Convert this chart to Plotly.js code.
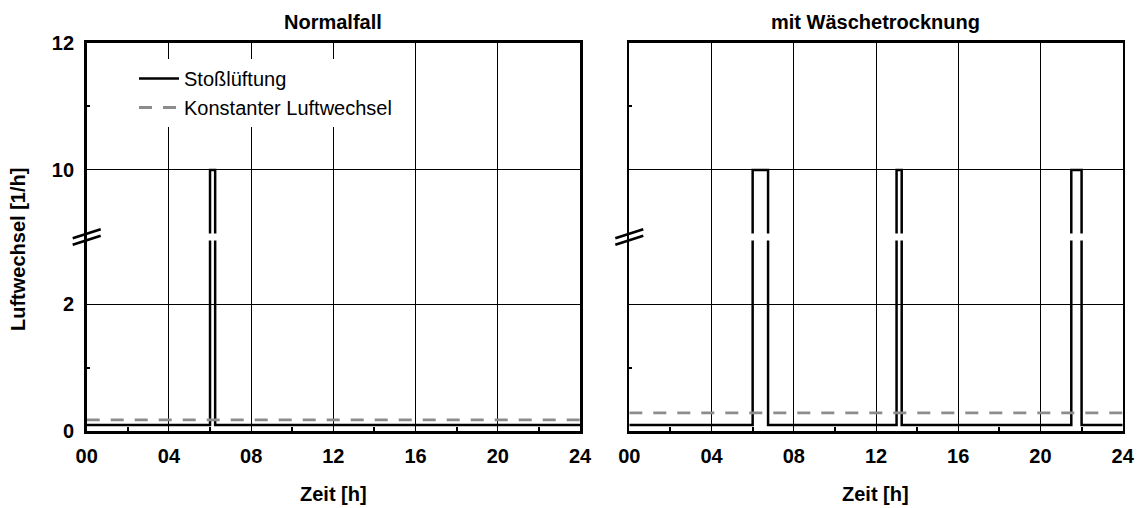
<!DOCTYPE html>
<html>
<head>
<meta charset="utf-8">
<script src="https://cdn.plot.ly/plotly-3.0.1.min.js"></script>
<style>
  html, body { margin: 0; padding: 0; background: #ffffff; }
  #chart { width: 1141px; height: 508px; }
</style>
</head>
<body>
<div id="chart"></div>
<script>
// ---------------- data ----------------
const panelTitles = ['Normalfall', 'mit Wäschetrocknung'];
const seriesNames = ['Stoßlüftung', 'Konstanter Luftwechsel'];
const xTickVals = [0, 4, 8, 12, 16, 20, 24];
const xTickText = ['00', '04', '08', '12', '16', '20', '24'];
const xMinorVals = [2, 6, 10, 14, 18, 22];
const yTickVals = [0, 2, 10, 12];
const yTickText = ['0', '2', '10', '12'];
const yMinorVals = [1, 11];
const xTitle = 'Zeit [h]';
const yTitle = 'Luftwechsel [1/h]';

// step series: value holds from times[i] to times[i+1]
const normalTimes = [0, 6.0, 6.25, 24];
const normalStoss = [0.1, 10, 0.1];
const dryTimes = [0, 6.0, 6.75, 13.0, 13.25, 21.5, 22.0, 24];
const dryStoss = [0.1, 10, 0.1, 10, 0.1, 10, 0.1];
const constHours = [0, 24];
const normalConst = [0.18, 0.18];
const dryConst = [0.29, 0.29];

// ---------------- broken y-axis scale ----------------
const BREAK_FROM = 2, BREAK_TO = 10, BREAK_SPAN = 2.11; // 2..10 drawn over 2.11 units
function tr(v) {
  if (v <= BREAK_FROM) return v;
  if (v >= BREAK_TO) return v - BREAK_TO + BREAK_FROM + BREAK_SPAN;
  return BREAK_FROM + (v - BREAK_FROM) / (BREAK_TO - BREAK_FROM) * BREAK_SPAN;
}
const BREAK_MID = BREAK_FROM + BREAK_SPAN / 2;
const GAP_LO = BREAK_MID - 0.055, GAP_HI = BREAK_MID + 0.055;
const Y_RANGE = [0, tr(12)];

function buildStep(times, vals) {
  const xs = [], ys = [];
  for (let i = 0; i < vals.length; i++) {
    const y = tr(vals[i]);
    if (i > 0) {
      const yp = tr(vals[i - 1]);
      if (Math.min(yp, y) < GAP_LO && Math.max(yp, y) > GAP_HI) {
        const a = yp < y ? GAP_LO : GAP_HI;
        const b = yp < y ? GAP_HI : GAP_LO;
        xs.push(times[i], null, times[i]);
        ys.push(a, null, b);
      }
    }
    xs.push(times[i], times[i + 1]);
    ys.push(y, y);
  }
  return {x: xs, y: ys};
}

// ---------------- layout geometry (px) ----------------
const W = 1141, H = 508;
const FONT = '"Liberation Sans", Arial, Helvetica, sans-serif';
const panels = [
  {x0: 86.7, x1: 580},
  {x0: 629.3, x1: 1122.7}
];
const yTopPx = 42.7, yBotPx = 431.3;
const px2x = p => p / W;
const px2y = p => 1 - p / H;
const yDomain = [px2y(yBotPx), px2y(yTopPx)];

const stossStyle = {color: '#000000', width: 2.5};
const constStyle = {color: '#8c8c8c', width: 2.8, dash: '13px,11px'};

const s1 = buildStep(normalTimes, normalStoss);
const s2 = buildStep(dryTimes, dryStoss);

const traces = [
  {x: s1.x, y: s1.y, xaxis: 'x', yaxis: 'y', mode: 'lines', name: seriesNames[0],
   line: stossStyle, connectgaps: false, hoverinfo: 'skip'},
  {x: constHours, y: normalConst.map(tr), xaxis: 'x', yaxis: 'y', mode: 'lines', name: seriesNames[1],
   line: constStyle, hoverinfo: 'skip'},
  {x: s2.x, y: s2.y, xaxis: 'x2', yaxis: 'y2', mode: 'lines', name: seriesNames[0],
   line: stossStyle, connectgaps: false, showlegend: false, hoverinfo: 'skip'},
  {x: constHours, y: dryConst.map(tr), xaxis: 'x2', yaxis: 'y2', mode: 'lines', name: seriesNames[1],
   line: constStyle, showlegend: false, hoverinfo: 'skip'}
];

function xAxis(p, anchor) {
  return {
    domain: [px2x(p.x0), px2x(p.x1)], anchor: anchor,
    range: [0, 24], tickmode: 'array', tickvals: xTickVals, ticktext: xTickText,
    showgrid: true, gridcolor: '#000000', gridwidth: 1, zeroline: false,
    showline: true, linecolor: '#000000', linewidth: 2.6, mirror: true,
    ticks: '', ticklabelstandoff: 5,
    tickfont: {family: FONT, size: 20, color: '#000000', weight: 'bold'},
    minor: {tickmode: 'array', tickvals: xMinorVals, ticks: 'inside', ticklen: 4,
            tickwidth: 2, tickcolor: '#000000', showgrid: false},
    fixedrange: true
  };
}
function yAxis(anchor, labels) {
  return {
    domain: yDomain, anchor: anchor,
    range: Y_RANGE, tickmode: 'array', tickvals: yTickVals.map(tr), ticktext: yTickText,
    showticklabels: labels,
    showgrid: true, gridcolor: '#000000', gridwidth: 1, zeroline: false,
    showline: true, linecolor: '#000000', linewidth: 2.6, mirror: true,
    ticks: '', ticklabelstandoff: 6,
    tickfont: {family: FONT, size: 20, color: '#000000', weight: 'bold'},
    minor: {tickmode: 'array', tickvals: yMinorVals.map(tr), ticks: 'inside', ticklen: 3,
            tickwidth: 2, tickcolor: '#000000', showgrid: false},
    fixedrange: true
  };
}

// break marks ("//") on each y axis
const shapes = [];
const yBreakPx = yBotPx - (BREAK_MID - Y_RANGE[0]) / (Y_RANGE[1] - Y_RANGE[0]) * (yBotPx - yTopPx);
panels.forEach(p => {
  [-3.3, 3.3].forEach(off => {
    const cy = yBreakPx + off;
    shapes.push({type: 'line', xref: 'paper', yref: 'paper',
      x0: px2x(p.x0 - 14), y0: px2y(cy + 4.5), x1: px2x(p.x0 + 14), y1: px2y(cy - 4.5),
      line: {color: '#000000', width: 2.6}});
  });
});

const annotations = [];
panels.forEach((p, i) => {
  const cx = (p.x0 + p.x1) / 2;
  annotations.push({text: panelTitles[i], xref: 'paper', yref: 'paper', x: px2x(cx), y: px2y(22),
    xanchor: 'center', yanchor: 'middle', showarrow: false,
    font: {family: FONT, size: 20, color: '#000000', weight: 'bold'}});
  annotations.push({text: xTitle, xref: 'paper', yref: 'paper', x: px2x(cx), y: px2y(494),
    xanchor: 'center', yanchor: 'middle', showarrow: false,
    font: {family: FONT, size: 20, color: '#000000', weight: 'bold'}});
});
annotations.push({text: yTitle, xref: 'paper', yref: 'paper', x: px2x(18), y: px2y(250),
  xanchor: 'center', yanchor: 'middle', showarrow: false, textangle: -90,
  font: {family: FONT, size: 20, color: '#000000', weight: 'bold'}});

const layout = {
  width: W, height: H,
  margin: {l: 0, r: 0, t: 0, b: 0, pad: 0},
  paper_bgcolor: '#ffffff', plot_bgcolor: '#ffffff',
  font: {family: FONT, color: '#000000'},
  showlegend: true,
  legend: {x: px2x(134), y: px2y(59), xanchor: 'left', yanchor: 'top',
    bgcolor: '#ffffff', borderwidth: 0,
    font: {family: FONT, size: 20, color: '#000000'}, itemwidth: 40, tracegroupgap: 0},
  xaxis: xAxis(panels[0], 'y'),
  yaxis: yAxis('x', true),
  xaxis2: xAxis(panels[1], 'y2'),
  yaxis2: yAxis('x2', false),
  shapes: shapes,
  annotations: annotations
};

Plotly.newPlot('chart', traces, layout, {staticPlot: true, displayModeBar: false});
</script>
</body>
</html>
